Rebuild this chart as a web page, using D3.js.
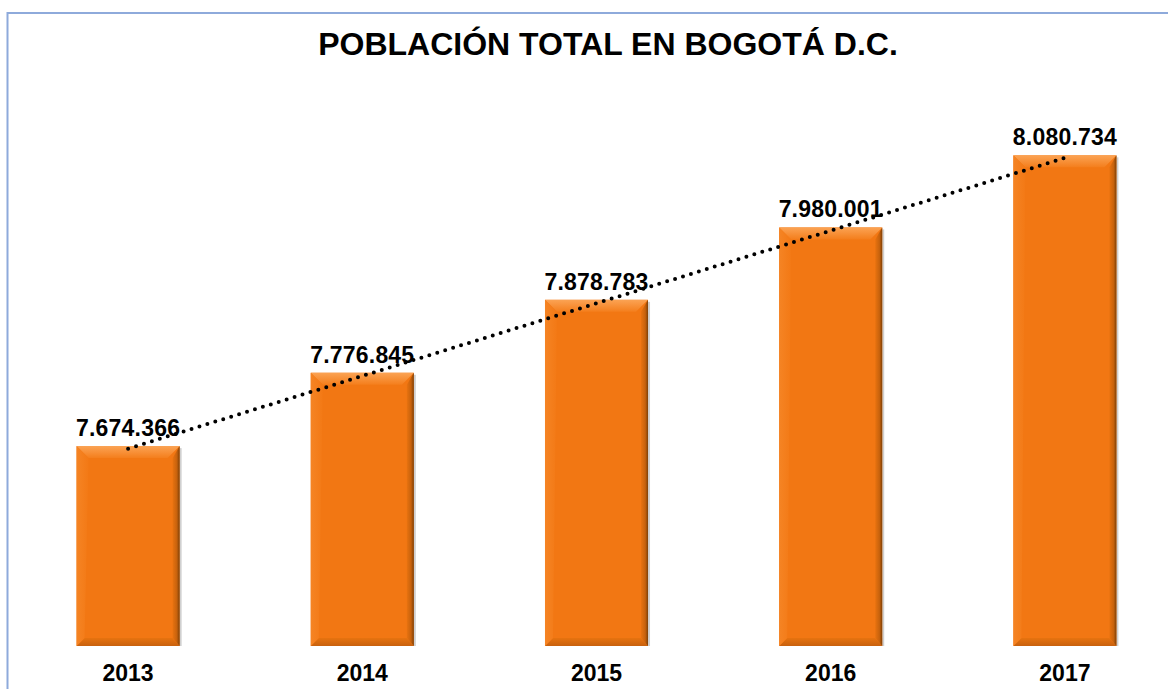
<!DOCTYPE html>
<html>
<head>
<meta charset="utf-8">
<script src="https://cdn.jsdelivr.net/npm/d3@7"></script>
<style>
  body { margin: 0; background: #fff; }
  text { font-family: "Liberation Sans", Arial, sans-serif; font-weight: bold; fill: #000; }
</style>
</head>
<body>
<div class="canvas"></div>
<script>
const years = ['2013', '2014', '2015', '2016', '2017'];
const population = [7674366, 7776845, 7878783, 7980001, 8080734];
const title = 'POBLACIÓN TOTAL EN BOGOTÁ D.C.';

const dims = { width: 1168, height: 689 };
const data = years.map((y, i) => ({ year: y, value: population[i] }));

const svg = d3.select('.canvas')
  .append('svg')
  .attr('width', dims.width)
  .attr('height', dims.height);

// chart border (runs off the right and bottom edge in the original)
svg.append('rect')
  .attr('x', 7.5).attr('y', 13)
  .attr('width', 1200).attr('height', 700)
  .attr('fill', 'none')
  .attr('stroke', '#8EAADB')
  .attr('stroke-width', 2);

svg.append('text')
  .attr('x', 608).attr('y', 55)
  .attr('text-anchor', 'middle')
  .attr('font-size', 32)
  .text(title);

const x = d3.scaleBand()
  .domain(years)
  .range([11, 1182])
  .paddingInner(0.56)
  .paddingOuter(0.28);

const y = d3.scaleLinear()
  .domain([7395000, 8200000])
  .range([646, 70]);

// gradients for bevel faces
const defs = svg.append('defs');
const grad = (id, x2, y2, stops) => {
  const g = defs.append('linearGradient').attr('id', id)
    .attr('x1', 0).attr('y1', 0).attr('x2', x2).attr('y2', y2);
  stops.forEach(s => g.append('stop').attr('offset', s[0]).attr('stop-color', s[1]));
};
grad('bevTop', 0, 1, [[0, '#FBA354'], [1, '#F47E1C']]);
grad('bevBot', 0, 1, [[0, '#E7730F'], [1, '#C8610E']]);
grad('bevLeft', 1, 0, [[0, '#F58424'], [1, '#F37915']]);
grad('bevRight', 1, 0, [[0, '#E8720F'], [0.6, '#C7620D'], [1, '#7E4007']]);

const bev = 12;
const bars = svg.append('g').selectAll('g')
  .data(data)
  .enter()
  .append('g');

bars.each(function(d) {
  const g = d3.select(this);
  const x0 = x(d.year), x1 = x0 + x.bandwidth();
  const y0 = y(d.value), y1 = y.range()[0];
  const b = Math.min(bev, (y1 - y0) / 2);
  const bb = 8;
  const br = 7;

  // drop shadow on right
  g.append('rect')
    .attr('x', x1).attr('y', y0 + 2)
    .attr('width', 2).attr('height', y1 - y0 - 2)
    .attr('fill', '#d0d0d0');

  g.append('rect')
    .attr('x', x0).attr('y', y0)
    .attr('width', x1 - x0).attr('height', y1 - y0)
    .attr('fill', '#F27713');

  const face = (pts, fill) => g.append('polygon')
    .attr('points', pts.map(p => p.join(',')).join(' '))
    .attr('fill', fill);

  face([[x0, y0], [x1, y0], [x1 - b, y0 + b], [x0 + b, y0 + b]], 'url(#bevTop)');
  face([[x0, y1], [x0 + bb, y1 - bb], [x1 - br, y1 - bb], [x1, y1]], 'url(#bevBot)');
  face([[x0, y0], [x0 + b, y0 + b], [x0 + bb, y1 - bb], [x0, y1]], 'url(#bevLeft)');
  face([[x1, y0], [x1, y1], [x1 - br, y1 - bb], [x1 - br, y0 + b]], 'url(#bevRight)');
});

// value labels
svg.append('g').selectAll('text')
  .data(data)
  .enter()
  .append('text')
    .attr('x', d => x(d.year) + x.bandwidth() / 2)
    .attr('y', d => y(d.value) - 10)
    .attr('text-anchor', 'middle')
    .attr('font-size', 23)
    .attr('letter-spacing', 0.2)
    .text(d => d3.format(',')(d.value).replace(/,/g, '.'));

// year labels
svg.append('g').selectAll('text')
  .data(data)
  .enter()
  .append('text')
    .attr('x', d => x(d.year) + x.bandwidth() / 2)
    .attr('y', 681)
    .attr('text-anchor', 'middle')
    .attr('font-size', 23)
    .text(d => d.year);

// linear trend line (least squares over category index)
const n = data.length;
const idx = d3.range(1, n + 1);
const mx = d3.mean(idx);
const my = d3.mean(population);
const slope = d3.sum(idx, (k, i) => (k - mx) * (population[i] - my)) / d3.sum(idx, k => (k - mx) ** 2);
const trend = k => my + slope * (k - mx);

const line = d3.line()
  .x(d => x(years[d - 1]) + x.bandwidth() / 2)
  .y(d => y(trend(d)) + 3);

svg.append('path')
  .datum([1, n])
  .attr('d', line)
  .attr('fill', 'none')
  .attr('stroke', '#000')
  .attr('stroke-width', 4)
  .attr('stroke-linecap', 'round')
  .attr('stroke-dasharray', '0 8.3');
</script>
</body>
</html>
